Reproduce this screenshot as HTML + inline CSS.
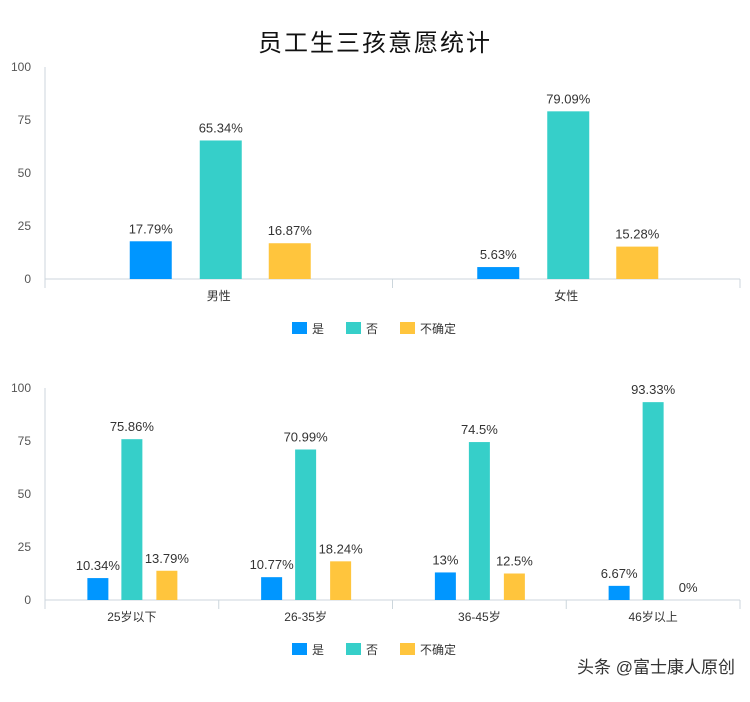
<!DOCTYPE html>
<html><head><meta charset="utf-8"><style>
body{margin:0;background:#fff;}
svg text{font-family:"Liberation Sans","Noto Sans CJK SC",sans-serif;}
</style></head><body>
<svg id="c" width="750" height="697">
<text x="375" y="51" text-anchor="middle" font-size="24" fill="#111" letter-spacing="2">员工生三孩意愿统计</text>
<text x="735" y="673" text-anchor="end" font-size="17" fill="#333">头条 @富士康人原创</text>
</svg>
<script>
const seriesNames=["是","否","不确定"];
const colors=["#0096FF","#36CFC9","#FFC53D"];
const ticks=[0,25,50,75,100];
const cats1=["男性","女性"];
const yes1=[17.79,5.63];
const no1=[65.34,79.09];
const unsure1=[16.87,15.28];
const labels1=[["17.79%","5.63%"],["65.34%","79.09%"],["16.87%","15.28%"]];
const cats2=["25岁以下","26-35岁","36-45岁","46岁以上"];
const yes2=[10.34,10.77,13,6.67];
const no2=[75.86,70.99,74.5,93.33];
const unsure2=[13.79,18.24,12.5,0];
const labels2=[["10.34%","10.77%","13%","6.67%"],["75.86%","70.99%","74.5%","93.33%"],["13.79%","18.24%","12.5%","0%"]];
const svg=document.getElementById('c');
const NS="http://www.w3.org/2000/svg";
function mk(tag,attrs,parent){const e=document.createElementNS(NS,tag);for(const k in attrs)e.setAttribute(k,attrs[k]);(parent||svg).appendChild(e);return e;}
function chart(name,cats,series,labels,y0,x0,x1,barW,offs,legY){
  const g=mk('g',{});
  
  
  const y=v=>y0-v*2.12;
  const bw=(x1-x0)/cats.length;
  const cx=i=>x0+bw*(i+0.5);
  ticks.forEach(t=>{
    const tx=mk('text',{x:31,y:y(t)+4,'text-anchor':'end','font-size':12,fill:'#555'},g);
    tx.textContent=t;
    
    
  });
  const ax=mk('line',{x1:x0,x2:x0,y1:y(100),y2:y0+9,stroke:'#ccd6dc'},g);
  
  
  const xa=mk('line',{x1:x0,x2:x1,y1:y0,y2:y0,stroke:'#ccd6dc'},g);
  
  
  for(let i=1;i<=cats.length;i++){mk('line',{x1:x0+bw*i,x2:x0+bw*i,y1:y0,y2:y0+9,stroke:'#ccd6dc'},g);}
  cats.forEach((c,i)=>{
    const t=mk('text',{x:cx(i),y:y0+21,'text-anchor':'middle','font-size':12,fill:'#333'},g);
    t.textContent=c;
    
    
    series.forEach((s,j)=>{
      const bx=cx(i)+offs[j]-barW/2;
      const r=mk('rect',{x:bx,y:y(s[i]),width:barW,height:s[i]*2.12,fill:colors[j]},g);
      
      
      const l=mk('text',{x:bx+barW/2,y:y(s[i])-8,'text-anchor':'middle','font-size':13,fill:'#333'},g);
      l.textContent=labels[j][i];
      
      
    });
  });
  const lx=[292,346,400];
  seriesNames.forEach((n,j)=>{
    const r=mk('rect',{x:lx[j],y:legY-6,width:15,height:12,fill:colors[j]},g);
    
    
    const t=mk('text',{x:lx[j]+20,y:legY+5,'font-size':12,fill:'#333'},g);
    t.textContent=n;
    
    
  });
}
chart('gender-chart',cats1,[yes1,no1,unsure1],labels1,279,45,740,42,[-68,2,71],328);
chart('age-chart',cats2,[yes2,no2,unsure2],labels2,600,45,740,21,[-34,0,35],649);
</script>
</body></html>
